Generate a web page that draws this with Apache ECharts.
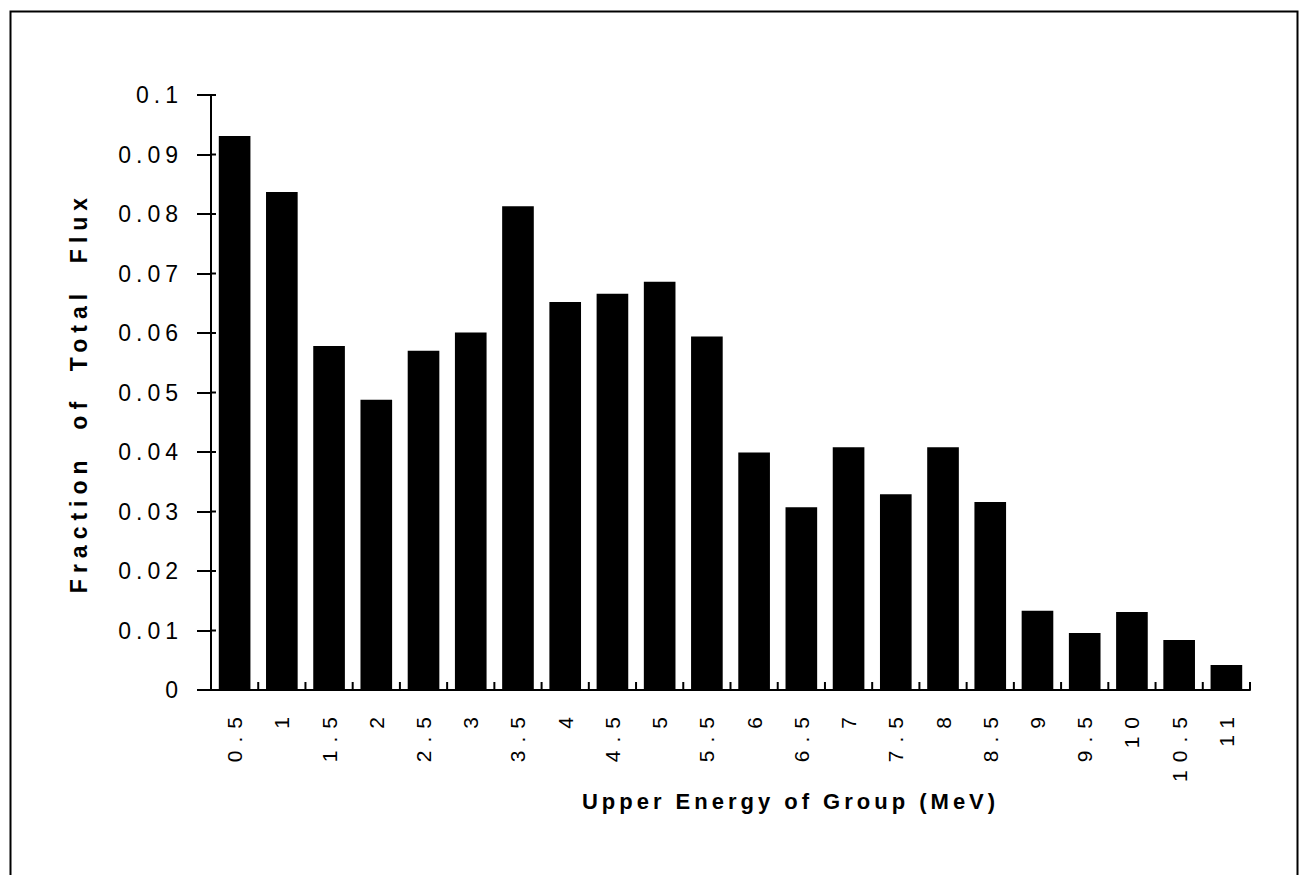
<!DOCTYPE html>
<html>
<head>
<meta charset="utf-8">
<script src="https://cdn.jsdelivr.net/npm/echarts@6/dist/echarts.min.js"></script>
<style>
html,body{margin:0;padding:0;background:#fff;}
#chart{width:1303px;height:875px;}
#chart text[style*="ytick"], #chart text[font-family*="ytick"]{letter-spacing:5px;}
#chart text[style*="xtick"], #chart text[font-family*="xtick"]{letter-spacing:8px;}
#chart text[style*="ytitle"], #chart text[font-family*="ytitle"]{letter-spacing:6px;}
#chart text[style*="xtitle"], #chart text[font-family*="xtitle"]{letter-spacing:4px;}
</style>
</head>
<body>
<div id="chart"></div>
<script>
const categories = ['0.5','1','1.5','2','2.5','3','3.5','4','4.5','5','5.5','6','6.5','7','7.5','8','8.5','9','9.5','10','10.5','11'];
const fluxFraction = [0.0931,0.0837,0.0578,0.0488,0.0570,0.0601,0.0813,0.0652,0.0666,0.0686,0.0594,0.0399,0.0307,0.0408,0.0329,0.0408,0.0316,0.0133,0.0096,0.0131,0.0084,0.0042];
const yTicks = ['0','0.01','0.02','0.03','0.04','0.05','0.06','0.07','0.08','0.09','0.1'];
const xTitle = 'Upper Energy of Group (MeV)';
const yTitle = 'Fraction  of  Total  Flux';

const chart = echarts.init(document.getElementById('chart'), null, { renderer: 'svg' });
const fam = tag => 'Liberation Sans, Arial, ' + tag + ', sans-serif';
const yFmt = v => yTicks[Math.round(v * 100)];
const axisLineStyle = { color: '#000', width: 2 };
const tickStyle = { stroke: '#000', lineWidth: 2 };

// inner halves of the crossing tick marks, placed through the axes' own scales
function xInnerTick(params, api) {
  const p = api.coord([api.value(0), 0]);
  const half = api.size([1, 0])[0] / 2;
  const xs = [p[0] - half];
  if (params.dataIndex === params.dataInsideLength - 1) xs.push(p[0] + half);
  return { type: 'group', children: xs.map(x => ({
    type: 'line', shape: { x1: x, y1: p[1], x2: x, y2: p[1] - 8 }, style: tickStyle })) };
}
function yInnerTick(params, api) {
  const p = api.coord([0, api.value(1)]);
  const x0 = p[0] - api.size([1, 0])[0] / 2;
  return { type: 'line', shape: { x1: x0, y1: p[1], x2: x0 + 5, y2: p[1] }, style: tickStyle };
}

chart.setOption({
  backgroundColor: '#fff',
  animation: false,
  graphic: [{
    type: 'rect', left: 8, top: 9,
    shape: { width: 1287, height: 900 },
    style: { fill: 'none', stroke: '#000', lineWidth: 2 }
  }],
  grid: { left: 211, right: 53, top: 95, bottom: 185 },
  xAxis: {
    type: 'category',
    data: categories,
    name: xTitle,
    nameLocation: 'middle',
    nameGap: 100,
    nameTextStyle: { fontFamily: fam('xtitle'), fontSize: 22, fontWeight: 'bold', color: '#000', padding: [0, 0, 0, 120] },
    axisLine: { lineStyle: axisLineStyle },
    axisTick: { length: 11, lineStyle: axisLineStyle },
    axisLabel: { rotate: 90, margin: 19, fontFamily: fam('xtick'), fontSize: 21, color: '#000', interval: 0 }
  },
  yAxis: {
    type: 'value',
    min: 0, max: 0.1, interval: 0.01,
    name: yTitle,
    nameLocation: 'middle',
    nameGap: 121,
    nameTextStyle: { fontFamily: fam('ytitle'), fontSize: 23, fontWeight: 'bold', color: '#000' },
    axisLine: { show: true, lineStyle: axisLineStyle },
    axisTick: { show: true, length: 14, lineStyle: axisLineStyle },
    splitLine: { show: false },
    axisLabel: { margin: 28, fontFamily: fam('ytick'), fontSize: 23, color: '#000', formatter: yFmt }
  },
  series: [{
    type: 'bar',
    data: fluxFraction,
    barCategoryGap: '33%',
    itemStyle: { color: '#000' }
  }, {
    type: 'custom',
    silent: true, clip: false, z: 3,
    renderItem: xInnerTick,
    data: categories.map((c, i) => [i, 0])
  }, {
    type: 'custom',
    silent: true, clip: false, z: 3,
    renderItem: yInnerTick,
    data: yTicks.map(t => [0, Number(t)])
  }]
});
</script>
</body>
</html>
